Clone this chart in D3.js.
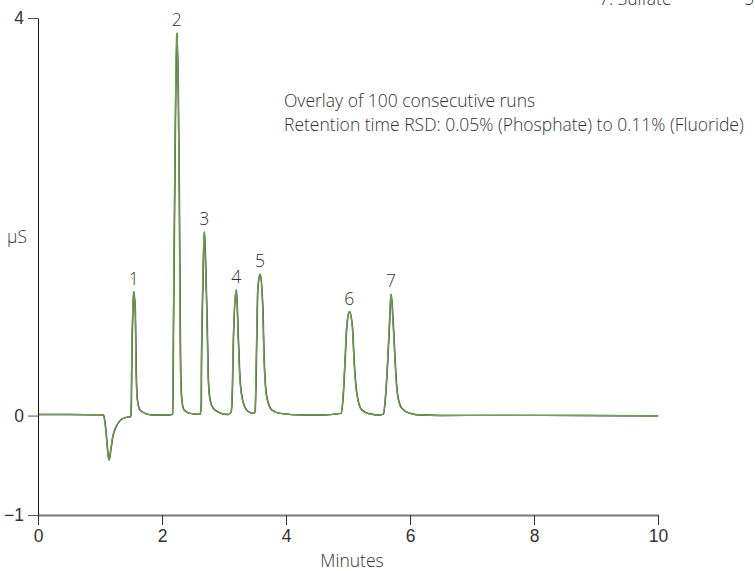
<!DOCTYPE html>
<html>
<head>
<meta charset="utf-8">
<script src="https://cdn.jsdelivr.net/npm/d3@7"></script>
<style>
  body { margin: 0; background: #fff; }
  svg { display: block; font-family: "Open Sans", "Liberation Sans", sans-serif; font-weight: 300; }
  text { fill: #333; }
</style>
</head>
<body>
<div id="chart"></div>
<script>
// trace: time (min), conductivity (µS)
var trace_t = [0, 0.516, 1.0, 1.053,
  1.081, 1.108, 1.133, 1.145, 1.173, 1.205, 1.258, 1.322, 1.403, 1.495,
  1.505, 1.511, 1.528, 1.543, 1.569, 1.580, 1.602, 1.645, 1.726, 1.855, 2.130,
  2.170, 2.177, 2.185, 2.210, 2.239, 2.263, 2.279, 2.291, 2.302, 2.323, 2.355, 2.452, 2.613,
  2.632, 2.634, 2.646, 2.666, 2.682, 2.701, 2.726, 2.747, 2.775, 2.822, 2.936, 3.065,
  3.113, 3.134, 3.150, 3.198, 3.231, 3.258, 3.311, 3.392, 3.473,
  3.500, 3.527, 3.544, 3.581, 3.624, 3.645, 3.688, 3.770, 3.903, 4.279, 4.548,
  4.887, 4.924, 4.952, 4.979, 5.021, 5.070, 5.097, 5.141, 5.221, 5.355, 5.517,
  5.569, 5.608, 5.640, 5.666, 5.694, 5.731, 5.758, 5.795, 5.866, 6.001, 6.162,
  6.484, 7.4, 8.8, 10];
var trace_v = [0.011, 0.011, 0.008, 0.006,
  -0.077, -0.245, -0.413, -0.447, -0.346, -0.212, -0.112, -0.051, -0.021, -0.011,
  0.157, 0.529, 1.032, 1.246, 1.032, 0.529, 0.157, 0.056, 0.023, 0.006, 0.006,
  0.016, 0.358, 0.962, 2.672, 3.849, 3.175, 2.169, 0.962, 0.358, 0.137, 0.056, 0.023, 0.013,
  0.107, 0.358, 0.962, 1.565, 1.847, 1.565, 0.962, 0.358, 0.157, 0.076, 0.026, 0.011,
  0.036, 0.258, 0.761, 1.264, 0.761, 0.358, 0.127, 0.039, 0.023,
  0.039, 0.761, 1.264, 1.422, 1.096, 0.593, 0.190, 0.056, 0.023, 0.006, 0.006,
  0.023, 0.224, 0.559, 0.894, 1.045, 0.894, 0.559, 0.224, 0.056, 0.016, 0.006,
  0.016, 0.224, 0.559, 0.894, 1.22, 0.894, 0.559, 0.224, 0.073, 0.023, 0.006,
  0.001, 0.002, 0.001, -0.002];

var peak_num = ["1", "2", "3", "4", "5", "6", "7"];
var peak_t = [1.543, 2.239, 2.682, 3.198, 3.581, 5.021, 5.694];
var peak_v = [1.246, 3.849, 1.847, 1.264, 1.422, 1.045, 1.22];

// a few of the overlaid runs: colour, retention shift (min), line width
var run_colors = ["#b27cb4", "#3b3b3b", "#8b7645", "#5cb845"];
var run_shift = [0.006, 0, 0.002, -0.004];
var run_width = [1.3, 1.3, 1.0, 0.9];

var x_ticks = [0, 2, 4, 6, 8, 10];
var y_ticks = [-1, 0, 4];

var width = 755, height = 571;
var fs = "17.5px";

var x = d3.scaleLinear().domain([0, 10]).range([38, 658]);
var y = d3.scaleLinear().domain([-1, 4]).range([515, 18]);

var svg = d3.select("#chart").append("svg")
  .attr("width", width)
  .attr("height", height);

var line = d3.line()
  .x(function(d) { return d[0]; })
  .y(function(d) { return d[1]; })
  .curve(d3.curveMonotoneX);

run_colors.forEach(function(c, i) {
  var pts = trace_t.map(function(t, j) { return [x(t + run_shift[i]), y(trace_v[j])]; });
  svg.append("path")
    .attr("d", line(pts))
    .attr("fill", "none")
    .attr("stroke", c)
    .attr("stroke-width", run_width[i])
    .attr("stroke-linejoin", "round");
});

// y axis
var yAxis = svg.append("g")
  .attr("transform", "translate(38,0)")
  .call(d3.axisLeft(y).tickValues(y_ticks).tickFormat(d3.format("d"))
    .tickSize(10).tickSizeOuter(0).tickPadding(4));
yAxis.select(".domain").attr("stroke", "#111");
yAxis.selectAll(".tick line").attr("stroke", "#555");
yAxis.selectAll("text").style("font-size", fs).style("font-family", null).attr("fill", "#333");

// x axis
var xAxis = svg.append("g")
  .attr("transform", "translate(0,515)")
  .call(d3.axisBottom(x).tickValues(x_ticks).tickSize(10).tickSizeOuter(0).tickPadding(5));
xAxis.select(".domain").attr("stroke", "#777").attr("stroke-width", 2);
xAxis.selectAll(".tick line").attr("stroke", "#333");
xAxis.selectAll("text").style("font-size", fs).style("font-family", null).attr("fill", "#333");

svg.append("text")
  .attr("x", 352).attr("y", 567)
  .attr("text-anchor", "middle")
  .style("font-size", fs)
  .text("Minutes");

svg.append("text")
  .attr("x", 7).attr("y", 243)
  .style("font-size", fs)
  .text("µS");

// peak numbers
svg.selectAll(".peak")
  .data(peak_num)
  .enter().append("text")
  .attr("class", "peak")
  .attr("x", function(d, i) { return x(peak_t[i]); })
  .attr("y", function(d, i) { return y(peak_v[i]) - 7; })
  .attr("text-anchor", "middle")
  .attr("fill", "#333")
  .style("font-size", fs)
  .text(function(d) { return d; });

svg.append("text")
  .attr("x", 284).attr("y", 107)
  .style("font-size", fs)
  .text("Overlay of 100 consecutive runs");
svg.append("text")
  .attr("x", 284).attr("y", 131)
  .style("font-size", fs)
  .text("Retention time RSD: 0.05% (Phosphate) to 0.11% (Fluoride)");

// legend table, cut off by the top edge
svg.append("text")
  .attr("x", 599).attr("y", 5)
  .style("font-size", fs)
  .text("7. Sulfate");
svg.append("text")
  .attr("x", 744).attr("y", 5)
  .style("font-size", fs)
  .text("5");
</script>
</body>
</html>
